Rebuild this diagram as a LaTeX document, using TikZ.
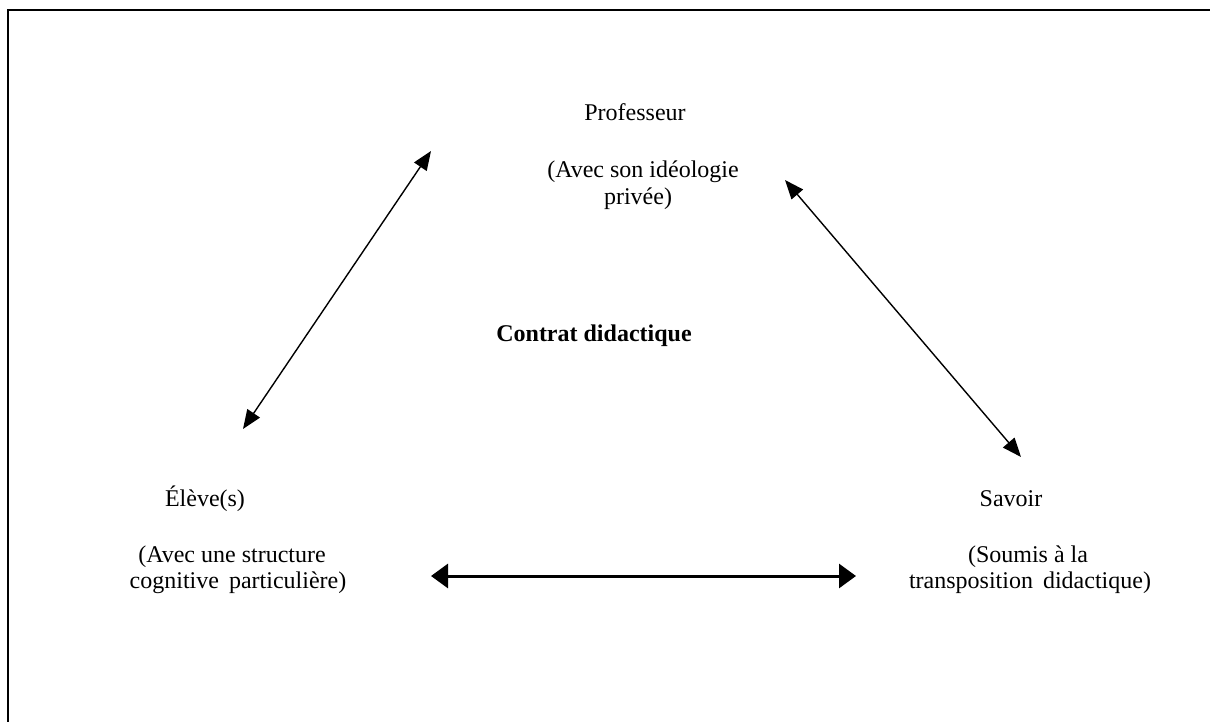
\documentclass[tikz,border=0pt]{standalone}
\usepackage{fontspec}
\setmainfont{Liberation Serif}
\usetikzlibrary{arrows.meta}
\begin{document}
\begin{tikzpicture}[x=1pt,y=-1pt,
  lbl/.style={font=\fontsize{24}{26.5}\selectfont, inner sep=0pt, anchor=base},
  link/.style={line width=1.4pt, {Triangle[length=19pt,width=15pt]}-{Triangle[length=19pt,width=15pt]}},
  mainlink/.style={line width=3pt, {Triangle[length=17pt,width=24pt]}-{Triangle[length=17pt,width=24pt]}},
  frame/.style={line width=2pt}]
\useasboundingbox (0,0) rectangle (1210,722);

% open frame: top and left edges only
\coordinate (fTL) at (7.5,10.5);
\coordinate (fTR) at (1210,10.5);
\coordinate (fBL) at (7.5,722);
\draw[frame] (fTR) -- (fTL) -- (fBL);

% teacher
\node[lbl] (prof)  at (635,121) {Professeur};
\node[lbl] (prof1) at (643,178) {(Avec son idéologie};
\node[lbl] (prof2) at (638,205) {privée)};

% centre label
\node[lbl, font=\fontsize{24}{26.5}\selectfont\bfseries] (contrat) at (594,341) {Contrat didactique};

% pupils
\node[lbl] (eleve)  at (205,506) {Élève(s)};
\node[lbl] (eleve1) at (232,562) {(Avec une structure};
\node[lbl] (eleve2) at (238,588) {cognitive\hspace{4pt} particulière)};

% knowledge
\node[lbl] (savoir)  at (1011,506) {Savoir};
\node[lbl] (savoir1) at (1028,562) {(Soumis à la};
\node[lbl] (savoir2) at (1030,588) {transposition\hspace{4pt} didactique)};

% arrow end points
\coordinate (pL) at (431,151);
\coordinate (eT) at (243,429);
\coordinate (pR) at (785,180);
\coordinate (sT) at (1021,457);
\coordinate (eR) at (431,576);
\coordinate (sL) at (856,576);

\draw[link] (pL) -- (eT);
\draw[link] (pR) -- (sT);
\draw[mainlink] (eR) -- (sL);
\end{tikzpicture}
\end{document}
